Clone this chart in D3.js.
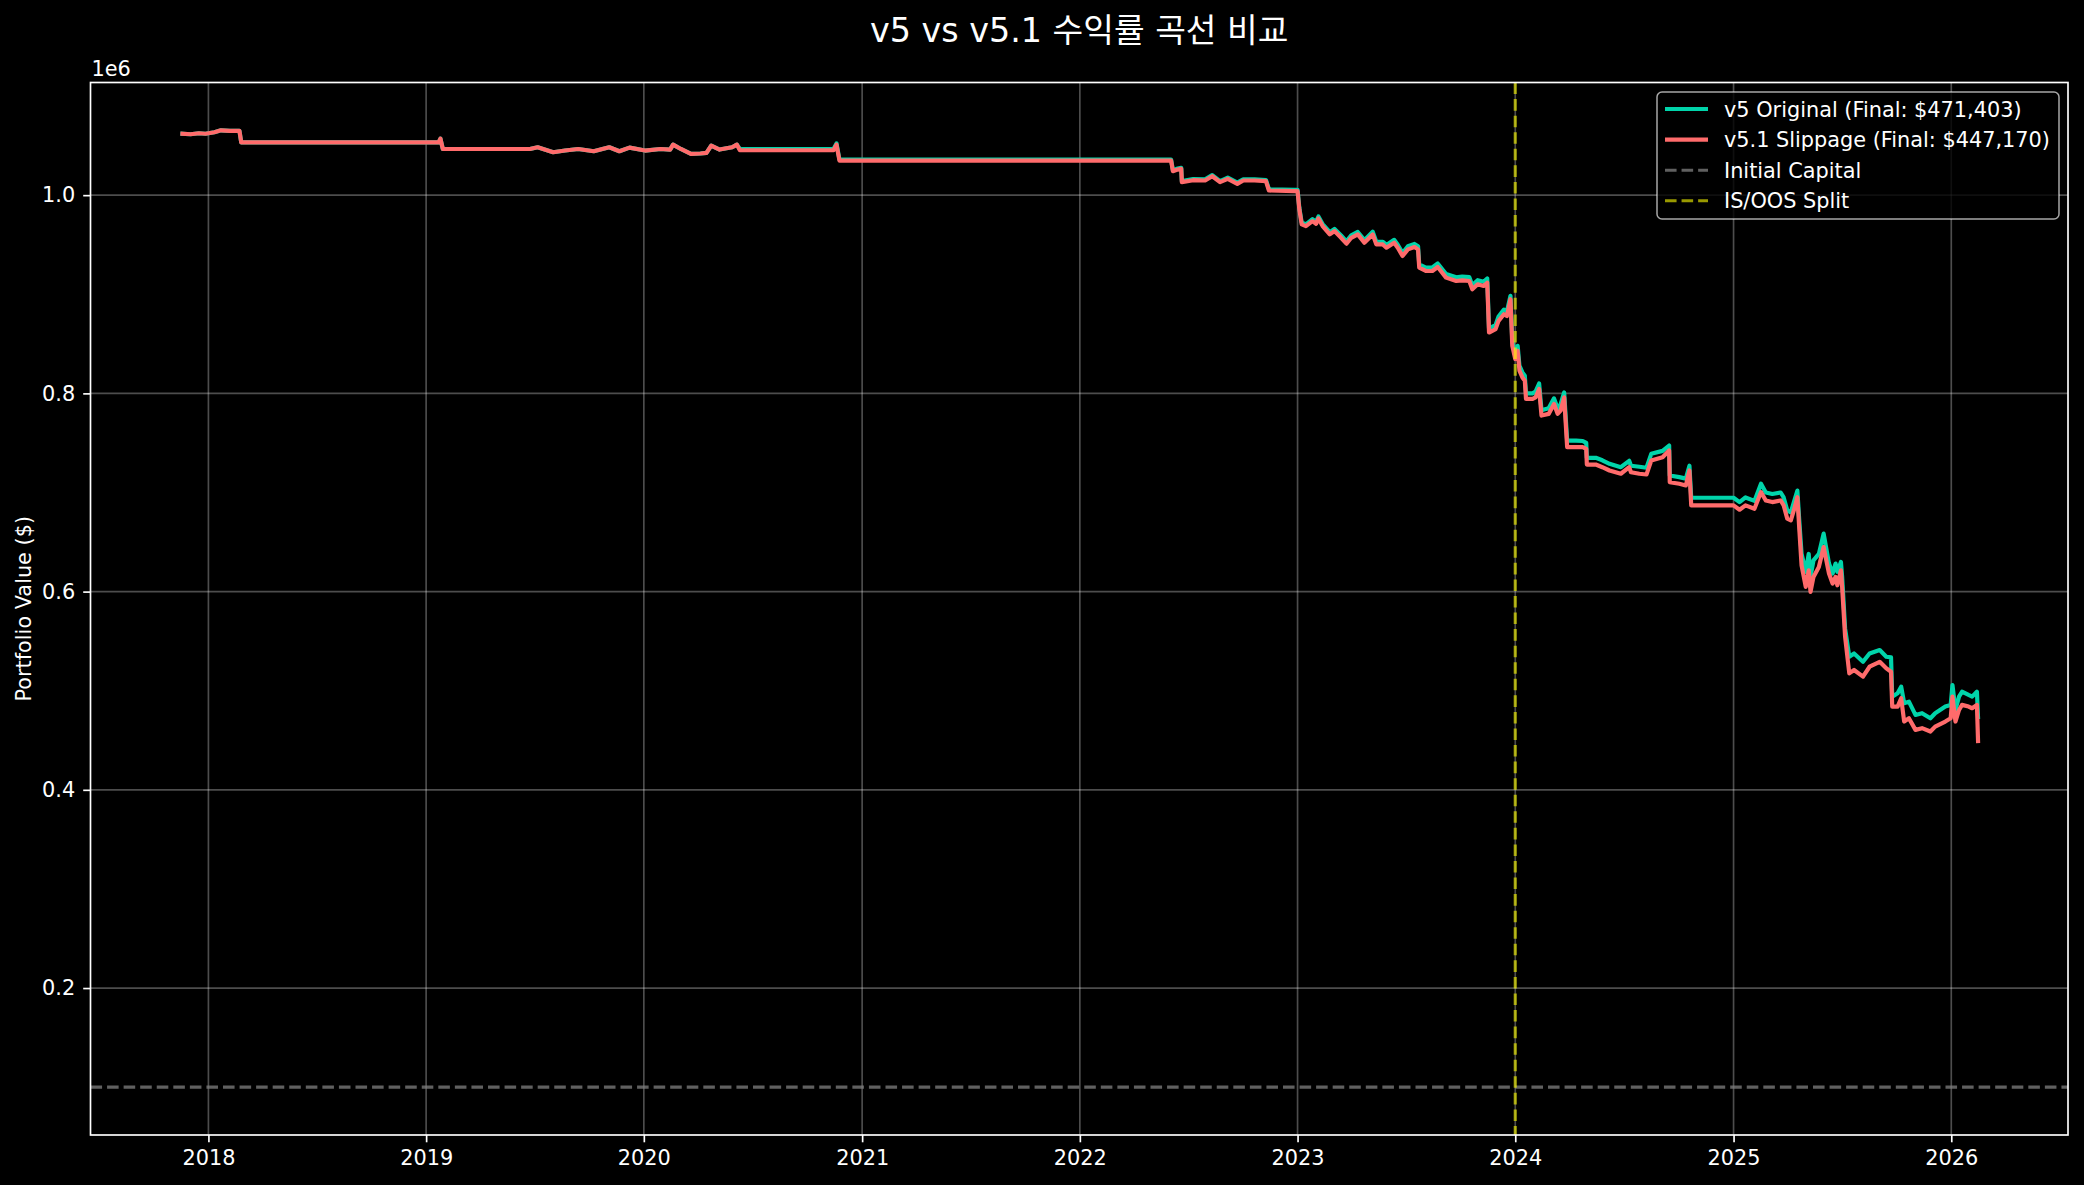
<!DOCTYPE html>
<html><head><meta charset="utf-8">
<script src="https://cdn.jsdelivr.net/npm/d3@7"></script>
<style>
html,body{margin:0;padding:0;background:#000;}
svg{display:block;}
text{font-family:"DejaVu Sans","Noto Sans CJK KR",sans-serif;fill:#fff;}
</style>
</head><body>
<svg id="chart" width="2084" height="1185"></svg>
<script>
// ---------------- data ----------------
const titleText = "v5 vs v5.1 수익률 곡선 비교";
const yLabel = "Portfolio Value ($)";
const seriesNames = ["v5 Original", "v5.1 Slippage"];
const refNames = ["Initial Capital", "IS/OOS Split"];
const initialCapital = 100000;
const splitDate = "2024-01-01";
const xTickYears = [2018, 2019, 2020, 2021, 2022, 2023, 2024, 2025, 2026];
const yTickValues = [200000, 400000, 600000, 800000, 1000000];

const dates = [
"2017-11-15","2017-12-02","2017-12-16","2017-12-27","2018-01-11","2018-01-22","2018-02-06","2018-02-22","2018-02-25",
"2019-01-22","2019-01-25","2019-01-29","2019-06-24","2019-07-07","2019-08-02","2019-08-22","2019-09-13","2019-10-09","2019-11-04","2019-11-21","2019-12-08",
"2020-01-03","2020-01-29","2020-02-14","2020-02-19","2020-03-03","2020-03-20","2020-04-05","2020-04-15","2020-04-23","2020-05-07","2020-05-28","2020-06-05","2020-06-10","2020-11-14","2020-11-19","2020-11-24",
"2022-06-03","2022-06-06","2022-06-14","2022-06-20","2022-06-21","2022-07-10","2022-07-30","2022-08-11","2022-08-24","2022-09-06","2022-09-22","2022-10-02","2022-10-21","2022-11-09","2022-11-14","2022-12-27",
"2023-01-01","2023-01-04","2023-01-08","2023-01-15","2023-01-26","2023-02-01","2023-02-05","2023-02-12","2023-02-24","2023-03-04","2023-03-15","2023-03-24","2023-04-01","2023-04-12","2023-04-23","2023-05-07","2023-05-13","2023-05-24","2023-05-30","2023-06-12","2023-06-18","2023-06-26","2023-07-05","2023-07-16","2023-07-22","2023-07-24","2023-08-04","2023-08-15","2023-08-24","2023-09-07","2023-09-24","2023-10-04","2023-10-16","2023-10-21","2023-10-30","2023-11-09","2023-11-15","2023-11-18","2023-11-29","2023-12-04","2023-12-13","2023-12-18","2023-12-24","2023-12-27",
"2024-01-01","2024-01-05","2024-01-08","2024-01-13","2024-01-17","2024-01-19","2024-01-30","2024-02-04","2024-02-10","2024-02-14","2024-02-26","2024-03-06","2024-03-12","2024-03-17","2024-03-23","2024-03-28","2024-04-12","2024-04-23","2024-04-29","2024-04-30","2024-05-15","2024-05-26","2024-06-07","2024-06-26","2024-07-10","2024-07-13","2024-07-27","2024-08-08","2024-08-16","2024-09-04","2024-09-15","2024-09-16","2024-10-02","2024-10-13","2024-10-19","2024-10-22",
"2025-01-01","2025-01-11","2025-01-21","2025-02-05","2025-02-16","2025-02-24","2025-03-07","2025-03-21","2025-03-26","2025-04-01","2025-04-07","2025-04-12","2025-04-18","2025-04-21","2025-04-25","2025-05-02","2025-05-07","2025-05-10","2025-05-15","2025-05-24","2025-06-01","2025-06-10","2025-06-16","2025-06-21","2025-06-24","2025-06-30","2025-07-02","2025-07-07","2025-07-14","2025-07-22","2025-08-06","2025-08-17","2025-09-03","2025-09-14","2025-09-22","2025-09-24","2025-10-03","2025-10-09","2025-10-14","2025-10-22","2025-11-02","2025-11-13","2025-11-27","2025-12-05","2025-12-22","2025-12-31",
"2026-01-03","2026-01-08","2026-01-14","2026-01-19","2026-01-30","2026-02-05","2026-02-13","2026-02-15"];

// v5 Original
const v5Values = [
1062100,1061500,1062500,1062000,1063500,1065400,1064800,1065000,1053300,
1053300,1057000,1046600,1046600,1048300,1043300,1045000,1046600,1044300,1048300,1044300,1048000,
1045000,1046600,1046000,1051000,1046600,1041600,1042000,1042600,1050000,1046000,1048300,1051000,1046600,1046600,1052200,1035800,
1035800,1025200,1026800,1027500,1014200,1016200,1015900,1020200,1014200,1017600,1012600,1016000,1016000,1015300,1006000,1005400,
1005400,987200,972200,970600,975700,973000,978500,970900,962600,966000,959300,953400,959400,962900,954600,963000,953000,953000,949800,954900,950000,941600,948400,950800,948500,930200,927000,927000,931000,920400,917200,917800,917300,909000,914200,912600,916000,865600,869000,877600,884500,882700,898500,853000,
839500,848000,828000,821200,817800,800000,800000,801800,810000,783000,785000,795000,785000,789000,801000,752400,752400,752000,750000,735000,735000,732500,729000,725500,732000,727000,726000,725000,739000,742000,747400,717200,715500,714000,727000,694700,
694700,690300,695000,691500,708800,700000,698500,700000,695000,682000,680000,690000,702000,673000,638300,620000,638000,615000,631600,638000,658500,628300,618200,628300,620000,629900,615000,562800,534300,537600,529200,537600,541000,534300,533600,494000,497400,504100,487400,489000,475600,477300,472200,477300,484000,485700,
505800,480600,494000,499000,495700,494000,499000,471403];

// v5.1 Slippage
const v51Values = [
1062100,1061500,1062500,1062000,1063500,1065400,1064800,1065000,1053300,
1053300,1057000,1046600,1046600,1048300,1043300,1045000,1046600,1044300,1048300,1044300,1048000,
1045000,1046600,1046000,1051000,1046600,1041600,1042000,1042600,1050000,1046000,1048300,1051000,1045300,1045300,1051000,1034900,
1034900,1024200,1025800,1026500,1013100,1015100,1014800,1019100,1013100,1016400,1011400,1014800,1014800,1014100,1004700,1004000,
1004000,985600,970500,968800,973800,971100,976500,968800,960400,963800,957000,951000,957000,960400,952000,960400,950300,950300,947000,952000,947000,938600,945300,947700,945300,926800,923500,923500,927500,916800,913400,914000,913400,905000,910100,908400,911700,861400,864800,873200,879900,878000,895000,848000,
834600,843000,822900,816100,812800,794400,794400,796000,804400,777600,779300,789300,779300,782600,796000,745700,745700,745700,744000,728200,728200,725500,722200,718900,725500,720500,718900,718200,732300,735600,742300,710400,708800,707100,722200,687000,
687000,682600,687000,683600,700400,692000,690300,692000,687000,673600,671900,681900,695300,665100,626600,604700,621500,599700,614800,624900,645000,618200,608100,614800,606400,621500,604700,554400,517500,520900,514200,524200,529200,522600,519200,484000,484000,492400,468900,472200,460500,462200,458800,463800,468900,472200,
494000,468900,480600,485700,484000,482300,485700,447170];

const colors = {v5: "#00d4aa", v51: "#ff6b6b", initial: "#808080", split: "#ffff00"};

// ---------------- layout ----------------
const W = 2084, H = 1185;
const M = {left: 90.5, right: 2068, top: 82.5, bottom: 1135};
const PT = 150 / 72;
const SERIES_W = 2 * PT;

const svg = d3.select("#chart");
svg.append("rect").attr("width", W).attr("height", H).attr("fill", "#000");

const parse = d3.timeParse("%Y-%m-%d");
const X = dates.map(parse);
const xExt = d3.extent(X);
const xPad = (xExt[1] - xExt[0]) * 0.05;
const x = d3.scaleTime()
  .domain([new Date(+xExt[0] - xPad), new Date(+xExt[1] + xPad)])
  .range([M.left, M.right]);

const allY = v5Values.concat(v51Values, [initialCapital]);
const yLo = d3.min(allY), yHi = d3.max(allY);
const yPad = (yHi - yLo) * 0.05;
const y = d3.scaleLinear().domain([yLo - yPad, yHi + yPad]).range([M.bottom, M.top]);

// grid
const xTickDates = xTickYears.map(yr => new Date(yr, 0, 1));
const grid = svg.append("g").attr("stroke", "#fff").attr("stroke-opacity", 0.3).attr("stroke-width", 0.8 * PT);
grid.selectAll(".gx").data(xTickDates).join("line")
  .attr("x1", d => x(d)).attr("x2", d => x(d)).attr("y1", M.top).attr("y2", M.bottom);
grid.selectAll(".gy").data(yTickValues).join("line")
  .attr("x1", M.left).attr("x2", M.right).attr("y1", d => y(d)).attr("y2", d => y(d));

// clip
svg.append("clipPath").attr("id", "clip").append("rect")
  .attr("x", M.left).attr("y", M.top).attr("width", M.right - M.left).attr("height", M.bottom - M.top);
const plot = svg.append("g").attr("clip-path", "url(#clip)");

const lineGen = vals => d3.line().x((d, i) => x(X[i])).y(d => y(d))(vals);
plot.append("path").attr("d", lineGen(v5Values)).attr("fill", "none")
  .attr("stroke", colors.v5).attr("stroke-width", SERIES_W).attr("stroke-linejoin", "round");
plot.append("path").attr("d", lineGen(v51Values)).attr("fill", "none")
  .attr("stroke", colors.v51).attr("stroke-width", SERIES_W).attr("stroke-linejoin", "round");

const dash = (3.7 * 1.5 * PT) + "," + (1.6 * 1.5 * PT);
plot.append("line").attr("x1", M.left).attr("x2", M.right)
  .attr("y1", y(initialCapital)).attr("y2", y(initialCapital))
  .attr("stroke", colors.initial).attr("stroke-opacity", 0.75).attr("stroke-width", 1.5 * PT)
  .attr("stroke-dasharray", dash);
const sd = parse(splitDate);
plot.append("line").attr("x1", x(sd)).attr("x2", x(sd))
  .attr("y1", M.top).attr("y2", M.bottom)
  .attr("stroke", colors.split).attr("stroke-opacity", 0.6).attr("stroke-width", 1.5 * PT)
  .attr("stroke-dasharray", dash);

// axes
const tickLen = 3.5 * PT;
const xAxis = svg.append("g").attr("transform", `translate(0,${M.bottom})`)
  .call(d3.axisBottom(x).tickValues(xTickDates).tickFormat(d3.timeFormat("%Y")).tickSize(tickLen).tickPadding(8));
const yAxis = svg.append("g").attr("transform", `translate(${M.left},0)`)
  .call(d3.axisLeft(y).tickValues(yTickValues).tickFormat(d => (d / 1e6).toFixed(1)).tickSize(tickLen).tickPadding(8));
[xAxis, yAxis].forEach(a => {
  a.select(".domain").remove();
  a.selectAll(".tick line").attr("stroke", "#fff").attr("stroke-width", 0.8 * PT);
  a.selectAll(".tick text").attr("fill", "#fff").style("font-size", (10 * PT) + "px")
    .style("font-family", "DejaVu Sans");
});

// spines
svg.append("rect").attr("x", M.left).attr("y", M.top)
  .attr("width", M.right - M.left).attr("height", M.bottom - M.top)
  .attr("fill", "none").attr("stroke", "#fff").attr("stroke-width", 0.8 * PT);

// offset text
svg.append("text").attr("x", M.left + 1).attr("y", 76).style("font-size", (10 * PT) + "px").text("1e6");

// y label
svg.append("text").attr("transform", `translate(30.5,${(M.top + M.bottom) / 2}) rotate(-90)`)
  .attr("text-anchor", "middle").style("font-size", (10 * PT) + "px").text(yLabel);

// title
svg.append("text").attr("x", (M.left + M.right) / 2).attr("y", 42)
  .attr("text-anchor", "middle").style("font-size", (16 * PT) + "px").text(titleText);

// legend
const fmt = d3.format(",.0f");
const legendItems = [
  {label: `${seriesNames[0]} (Final: $${fmt(v5Values[v5Values.length - 1])})`, color: colors.v5, op: 1, w: SERIES_W, dash: null},
  {label: `${seriesNames[1]} (Final: $${fmt(v51Values[v51Values.length - 1])})`, color: colors.v51, op: 1, w: SERIES_W, dash: null},
  {label: refNames[0], color: colors.initial, op: 0.75, w: 1.5 * PT, dash: dash},
  {label: refNames[1], color: colors.split, op: 0.6, w: 1.5 * PT, dash: dash}
];
const lg = svg.append("g");
lg.append("rect").attr("x", 1657).attr("y", 92).attr("width", 402).attr("height", 127).attr("rx", 5)
  .attr("fill", "#000").attr("fill-opacity", 0.8)
  .attr("stroke", "#fff").attr("stroke-opacity", 0.65).attr("stroke-width", 1.5);
legendItems.forEach((it, i) => {
  const cy = 109 + i * 30.6;
  lg.append("line").attr("x1", 1665).attr("x2", 1708).attr("y1", cy).attr("y2", cy)
    .attr("stroke", it.color).attr("stroke-opacity", it.op).attr("stroke-width", it.w)
    .attr("stroke-dasharray", it.dash);
  lg.append("text").attr("x", 1724).attr("y", cy + 7.5).style("font-size", (10 * PT) + "px").text(it.label);
});
</script>
</body></html>
